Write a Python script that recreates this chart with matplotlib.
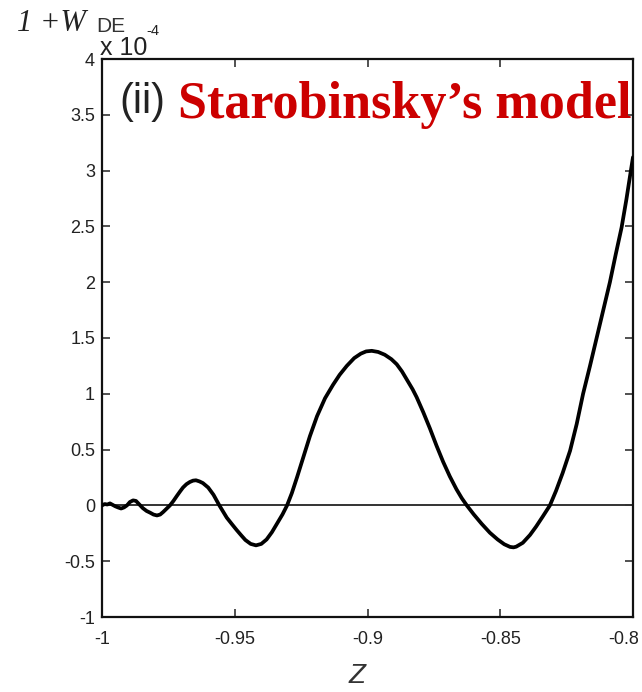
import matplotlib
matplotlib.use("Agg")
import matplotlib.pyplot as plt
from matplotlib.ticker import FixedLocator, FixedFormatter
from matplotlib.transforms import ScaledTranslation

# values (y in units of 1e-4)
z = [-1.0000, -0.9990, -0.9980, -0.9970, -0.9960, -0.9950, -0.9940, -0.9928,
     -0.9917, -0.9906, -0.9895, -0.9883, -0.9872, -0.9860, -0.9846, -0.9832,
     -0.9819, -0.9806, -0.9793, -0.9781, -0.9770, -0.9757, -0.9744, -0.9731,
     -0.9718, -0.9706, -0.9695, -0.9682, -0.9669, -0.9657, -0.9646, -0.9633,
     -0.9620, -0.9600, -0.9580, -0.9558, -0.9530, -0.9510, -0.9493, -0.9475,
     -0.9460, -0.9440, -0.9420, -0.9400, -0.9380, -0.9360, -0.9340, -0.9320,
     -0.9303, -0.9285, -0.9265, -0.9240, -0.9217, -0.9190, -0.9160, -0.9130,
     -0.9105, -0.9078, -0.9050, -0.9025, -0.9005, -0.8984, -0.8960, -0.8935,
     -0.8910, -0.8890, -0.8870, -0.8850, -0.8830, -0.8815, -0.8790, -0.8765,
     -0.8740, -0.8715, -0.8690, -0.8665, -0.8645, -0.8626, -0.8600, -0.8570,
     -0.8539, -0.8510, -0.8485, -0.8463, -0.8450, -0.8440, -0.8415, -0.8388,
     -0.8365, -0.8340, -0.8313, -0.8290, -0.8265, -0.8237, -0.8212, -0.8188,
     -0.8162, -0.8137, -0.8112, -0.8087, -0.8065, -0.8043, -0.8025, -0.8008,
     -0.8000]
w_de = [0.000, 0.012, 0.008, 0.018, 0.005, -0.008, -0.018, -0.028,
        -0.018, 0.000, 0.030, 0.045, 0.040, 0.010, -0.025, -0.050,
        -0.065, -0.082, -0.090, -0.082, -0.060, -0.030, 0.000, 0.040,
        0.085, 0.125, 0.160, 0.190, 0.210, 0.222, 0.225, 0.215,
        0.200, 0.160, 0.095, 0.000, -0.110, -0.170, -0.220, -0.270,
        -0.310, -0.345, -0.358, -0.345, -0.305, -0.240, -0.160, -0.080,
        0.000, 0.110, 0.255, 0.445, 0.620, 0.800, 0.960, 1.080,
        1.170, 1.250, 1.320, 1.360, 1.380, 1.385, 1.375, 1.350,
        1.310, 1.265, 1.200, 1.120, 1.040, 0.970, 0.835, 0.690,
        0.535, 0.390, 0.260, 0.145, 0.065, 0.000, -0.080, -0.165,
        -0.245, -0.305, -0.348, -0.372, -0.376, -0.370, -0.335, -0.265,
        -0.190, -0.100, 0.000, 0.130, 0.290, 0.490, 0.730, 1.000,
        1.250, 1.500, 1.750, 2.000, 2.250, 2.490, 2.740, 3.000,
        3.120]
zero_level = 0

xticks = [-1, -0.95, -0.9, -0.85, -0.8]
xtick_labels = ["-1", "-0.95", "-0.9", "-0.85", "-0.8"]
yticks = [-1, -0.5, 0, 0.5, 1, 1.5, 2, 2.5, 3, 3.5, 4]
ytick_labels = ["-1", "-0.5", "0", "0.5", "1", "1.5", "2", "2.5", "3", "3.5", "4"]

W, H = 642, 692
fig = plt.figure(figsize=(W / 100, H / 100), dpi=100)
ax = fig.add_axes([102 / W, 1 - 617 / H, 531 / W, 558 / H])

def fx(px):
    return px / W

def fy(py):
    return 1 - py / H

ax.axhline(zero_level, color="#333333", lw=1.4, zorder=2)
ax.plot(z, w_de, color="black", lw=2.7, solid_joinstyle="round",
        solid_capstyle="round", zorder=3)

ax.set_xlim(-1, -0.8)
ax.set_ylim(-1, 4)
ax.xaxis.set_major_locator(FixedLocator(xticks))
ax.xaxis.set_major_formatter(FixedFormatter(xtick_labels))
ax.yaxis.set_major_locator(FixedLocator(yticks))
ax.yaxis.set_major_formatter(FixedFormatter(ytick_labels))
ax.tick_params(direction="in", length=6, width=1.1, top=True, right=True,
               labelsize=13, labelcolor="#222222", color="#222222")
ax.tick_params(axis="x", pad=10)
ax.tick_params(axis="y", pad=5)
for lab in ax.get_xticklabels() + ax.get_yticklabels():
    lab.set_family("Liberation Sans")
# last x label sits against the right edge, as in the original
last = ax.get_xticklabels()[-1]
last.set_transform(last.get_transform() + ScaledTranslation(-7 / 72, 0, fig.dpi_scale_trans))
for s in ax.spines.values():
    s.set_linewidth(1.6)
    s.set_color("#111111")

# panel title
fig.text(fx(119), fy(113), "(ii)", family="Liberation Sans", fontsize=30,
         color="#222222", va="baseline", ha="left")
fig.text(fx(178), fy(118), "Starobinsky\u2019s model", family="Liberation Serif",
         fontweight="bold", fontsize=37.5, color="#cc0000", va="baseline", ha="left")

# y label and MATLAB-style exponent
fig.text(fx(17), fy(31), "1 +W", family="Liberation Serif", style="italic",
         fontsize=22, color="#222222", va="baseline", ha="left")
fig.text(fx(96), fy(32), "DE", family="Liberation Sans", fontsize=15,
         color="#333333", va="baseline", ha="left")
fig.text(fx(100), fy(55), "x 10", family="Liberation Sans", fontsize=18,
         color="#222222", va="baseline", ha="left")
fig.text(fx(146), fy(35), "-4", family="Liberation Sans", fontsize=10.5,
         color="#222222", va="baseline", ha="left")

# x label
fig.text(fx(357), fy(683), "Z", family="Liberation Sans", style="italic",
         fontsize=20, color="#333333", va="baseline", ha="center")

fig.savefig("out.png", dpi=100)
